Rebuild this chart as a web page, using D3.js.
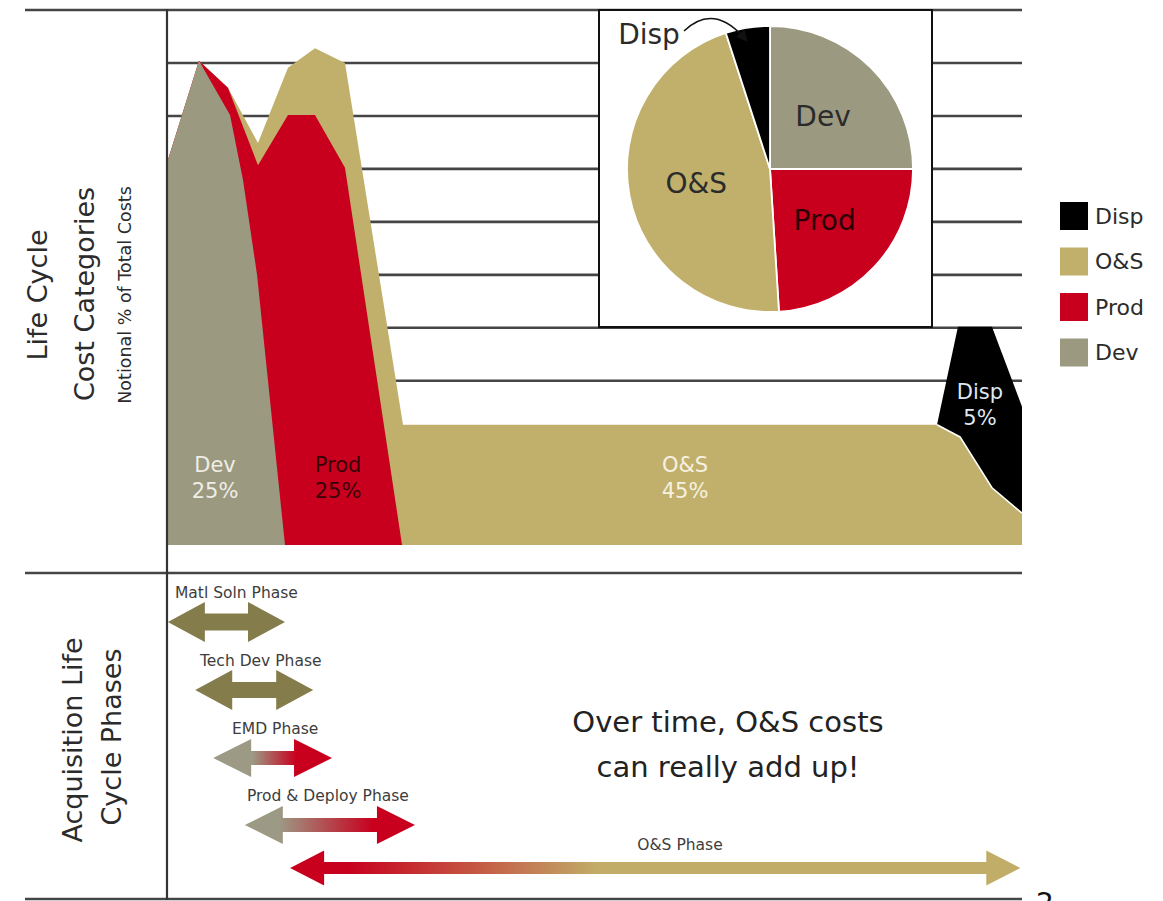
<!DOCTYPE html>
<html><head><meta charset="utf-8">
<script src="https://cdn.jsdelivr.net/npm/d3@7"></script>
<style>body{margin:0;background:#fff}svg{display:block;font-family:"DejaVu Sans",sans-serif}</style>
</head><body><svg id="c" width="1163" height="901"></svg>
<script>
// ---------- data ----------
const categories = ["Dev", "Prod", "O&S", "Disp"];
const labelPct = ["25%", "25%", "45%", "5%"];
const pieShares = [25, 24, 46, 5];
// [time (0-100), notional level]
const devCurve  = [[0,72.1],[3.74,91.4],[7.37,81.2],[8.89,68.9],[10.53,51.0],[13.8,0]];
const prodCurve = [[0,72.1],[3.74,91.4],[7.13,86.3],[10.64,71.7],[14.15,81.2],[17.31,81.2],[20.82,71.2],[27.49,0]];
const osCurve   = [[0,72.1],[3.74,91.4],[7.13,86.3],[10.64,75.9],[14.15,90.1],[17.31,93.8],[20.82,91.0],[27.6,22.7],[90.06,22.7],[92.75,20.4],[96.49,10.8],[100,6.0]];
const dispCurve = [[90.06,22.7],[92.51,41.2],[96.49,41.2],[100,26.1]];
const gridValues = [31, 41, 51, 61, 71, 81, 91, 101];
const phaseNames = ["Matl Soln Phase", "Tech Dev Phase", "EMD Phase", "Prod & Deploy Phase", "O&S Phase"];
const phaseStart = [0.1, 3.3, 5.4, 9.1, 14.4];
const phaseEnd   = [13.8, 17.1, 19.3, 29.0, 99.8];
const legendOrder = ["Disp", "O&S", "Prod", "Dev"];

// ---------- styles ----------
const color = {"Dev":"#9b9980", "Prod":"#c8001e", "O&S":"#c1b06b", "Disp":"#000000"};
const olive = "#857c4c";

const svg = d3.select("#c");
const x = d3.scaleLinear([0, 100], [167, 1022]);
const y = d3.scaleLinear([0, 101], [545, 10]);

// gridlines
svg.append("g").selectAll("line").data(gridValues).join("line")
  .attr("x1", (d,i) => i === gridValues.length-1 ? 25 : x(0))
  .attr("x2", x(100)).attr("y1", d => y(d)).attr("y2", d => y(d))
  .attr("stroke", "#454545").attr("stroke-width", 2.6);

const area = d3.area().x(d => x(d[0])).y0(y(0)).y1(d => y(d[1]));
const layers = [["Disp", dispCurve], ["O&S", osCurve], ["Prod", prodCurve], ["Dev", devCurve]];
const ag = svg.append("g");
layers.forEach(([k, c]) => {
  ag.append("path").attr("d", area(c)).attr("fill", color[k]);
  if (k === "O&S") {
    ag.append("path").attr("d", d3.line().x(d => x(d[0])).y(d => y(d[1]))(c.filter(d => d[0] >= 90)))
      .attr("fill", "none").attr("stroke", "#fff").attr("stroke-width", 1.6);
  }
});

// separators and axis
svg.append("line").attr("x1", 25).attr("x2", x(100)).attr("y1", 573).attr("y2", 573).attr("stroke", "#454545").attr("stroke-width", 2.6);
svg.append("line").attr("x1", 25).attr("x2", x(100)).attr("y1", 899).attr("y2", 899).attr("stroke", "#454545").attr("stroke-width", 2.6);
svg.append("line").attr("x1", x(0)).attr("x2", x(0)).attr("y1", 9).attr("y2", 900).attr("stroke", "#333").attr("stroke-width", 2.2);

// area labels
const areaLabelPos = {"Dev":[215,465], "Prod":[338,465], "O&S":[685,465], "Disp":[980,392]};
const areaLabelCol = {"Dev":"#eeeee6", "Prod":"#3a0008", "O&S":"#f6f1e2", "Disp":"#dfe8f0"};
categories.forEach((k, i) => {
  const [px, py] = areaLabelPos[k];
  svg.append("text").attr("x", px).attr("y", py).attr("dy", "0.35em").attr("text-anchor", "middle")
    .attr("font-size", 21).attr("fill", areaLabelCol[k]).text(k);
  svg.append("text").attr("x", px).attr("y", py + 26).attr("dy", "0.35em").attr("text-anchor", "middle")
    .attr("font-size", 21).attr("fill", areaLabelCol[k]).text(labelPct[i]);
});

// inset pie
svg.append("rect").attr("x", 599).attr("y", 10).attr("width", 333).attr("height", 317)
  .attr("fill", "#fff").attr("stroke", "#111").attr("stroke-width", 2);
const pieG = svg.append("g").attr("transform", "translate(770,169)");
const pie = d3.pie().sort(null).value(d => d.v);
const arcs = pie(categories.map((k, i) => ({k, v: pieShares[i]})));
const arc = d3.arc().innerRadius(0).outerRadius(143);
const labelArc = d3.arc().innerRadius(75).outerRadius(75);
pieG.selectAll("path").data(arcs).join("path").attr("d", arc)
  .attr("fill", d => color[d.data.k]).attr("stroke", "#fff").attr("stroke-width", 1.8);
pieG.selectAll("text").data(arcs.filter(d => d.data.k !== "Disp")).join("text")
  .attr("transform", d => `translate(${labelArc.centroid(d)})`)
  .attr("text-anchor", "middle").attr("dy", "0.35em").attr("font-size", 28)
  .attr("fill", d => d.data.k === "Prod" ? "#2a0006" : "#2b2b2b").text(d => d.data.k);
svg.append("text").attr("x", 649).attr("y", 44).attr("text-anchor", "middle").attr("font-size", 28)
  .attr("fill", "#2b2b2b").text("Disp");
svg.append("defs").append("marker").attr("id", "ah").attr("viewBox", "0 0 10 10")
  .attr("refX", 8).attr("refY", 5).attr("markerWidth", 7).attr("markerHeight", 7).attr("orient", "auto")
  .append("path").attr("d", "M0,0 L10,5 L0,10 z").attr("fill", "#111");
svg.append("path").attr("d", "M684,31 Q714,2 746,40").attr("fill", "none")
  .attr("stroke", "#111").attr("stroke-width", 1.6).attr("marker-end", "url(#ah)");

// legend
const lg = svg.append("g");
legendOrder.forEach((k, i) => {
  const ty = 202 + i * 45.5;
  lg.append("rect").attr("x", 1060).attr("y", ty).attr("width", 28).attr("height", 28).attr("fill", color[k]);
  lg.append("text").attr("x", 1095).attr("y", ty + 14).attr("dy", "0.35em").attr("font-size", 22)
    .attr("fill", "#2b2b2b").text(k);
});

// left titles
function vtext(tx, ty, s, size) {
  svg.append("text").attr("transform", `translate(${tx},${ty}) rotate(-90)`)
    .attr("text-anchor", "middle").attr("font-size", size).attr("fill", "#2b2b2b").text(s);
}
vtext(47, 295, "Life Cycle", 27);
vtext(94, 294, "Cost Categories", 27);
vtext(131, 295, "Notional % of Total Costs", 17.5);
vtext(82, 740, "Acquisition Life", 27);
vtext(121, 737, "Cycle Phases", 27);

// phase arrows
const defs = svg.select("defs");
const rowY = [622, 690, 758, 825, 868];
const labelX = [175, 200, 232, 247, 680];
const shaftHalf = [8.5, 8, 7, 7, 6];
const headHalf = [20, 20, 19, 19, 17.5];
const headLen = [37, 37, 38, 38, 34];
const grads = [null, null,
  [["0", "#9c9a84"], ["0.33", "#9c9a84"], ["0.7", "#c8001e"], ["1", "#c8001e"]],
  [["0", "#9c9a84"], ["0.2", "#9c9a84"], ["0.75", "#c8001e"], ["1", "#c8001e"]],
  [["0", "#c8001e"], ["0.08", "#c8001e"], ["0.42", "#c1ac68"], ["1", "#c1ac68"]]];
function arrowPath(x0, x1, cy, hl, hh, sh) {
  return `M${x0},${cy} L${x0+hl},${cy-hh} L${x0+hl},${cy-sh} L${x1-hl},${cy-sh} L${x1-hl},${cy-hh} L${x1},${cy} L${x1-hl},${cy+hh} L${x1-hl},${cy+sh} L${x0+hl},${cy+sh} L${x0+hl},${cy+hh} Z`;
}
phaseNames.forEach((name, i) => {
  const x0 = x(phaseStart[i]), x1 = x(phaseEnd[i]);
  let fill = olive;
  if (grads[i]) {
    const g = defs.append("linearGradient").attr("id", "g" + i).attr("gradientUnits", "userSpaceOnUse")
      .attr("x1", x0).attr("x2", x1).attr("y1", 0).attr("y2", 0);
    grads[i].forEach(([o, c]) => g.append("stop").attr("offset", o).attr("stop-color", c));
    fill = `url(#g${i})`;
  }
  svg.append("path").attr("d", arrowPath(x0, x1, rowY[i], headLen[i], headHalf[i], shaftHalf[i])).attr("fill", fill);
  svg.append("text").attr("x", labelX[i]).attr("y", rowY[i] - (i === 4 ? 18 : 24))
    .attr("text-anchor", i === 4 ? "middle" : "start").attr("font-size", 15.5)
    .attr("fill", "#3d3d3d").text(name);
});

// message
svg.append("text").attr("x", 728).attr("y", 732).attr("text-anchor", "middle").attr("font-size", 29).attr("fill", "#222").text("Over time, O&S costs");
svg.append("text").attr("x", 728).attr("y", 777).attr("text-anchor", "middle").attr("font-size", 29).attr("fill", "#222").text("can really add up!");
svg.append("text").attr("x", 1036).attr("y", 913).attr("font-size", 28).attr("fill", "#111").text("2");
</script></body></html>
